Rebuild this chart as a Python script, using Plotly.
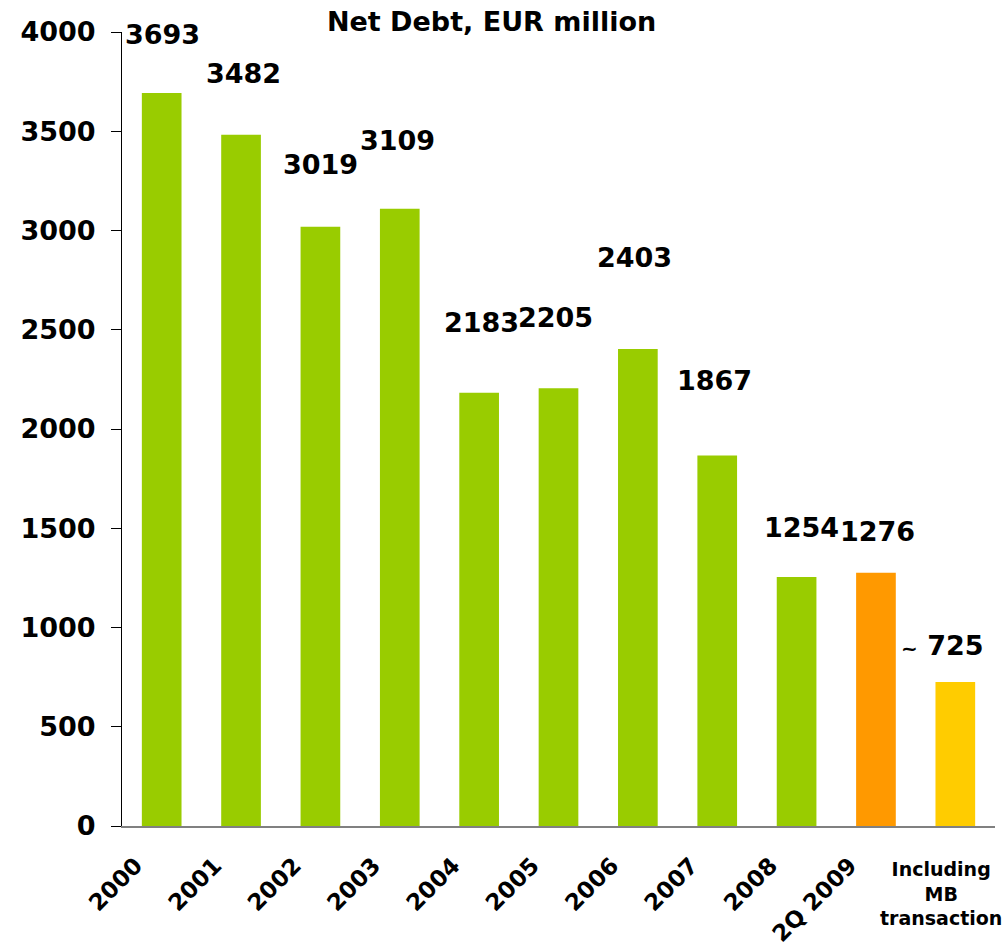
import plotly.graph_objects as go

# ---- data ----
categories = ["2000", "2001", "2002", "2003", "2004", "2005", "2006", "2007",
              "2008", "2Q 2009", "Including MB transaction"]
tick_labels = ["2000", "2001", "2002", "2003", "2004", "2005", "2006", "2007",
               "2008", "2Q 2009", ""]
net_debt = [3693, 3482, 3019, 3109, 2183, 2205, 2403, 1867, 1254, 1276, 725]
value_labels = ["3693", "3482", "3019", "3109", "2183", "2205", "2403", "1867",
                "1254", "1276", "<span style='font-size:20px'>~</span> 725"]
y_ticks = [0, 500, 1000, 1500, 2000, 2500, 3000, 3500, 4000]
title_text = "Net Debt, EUR million"
last_label = "Including<br>MB<br>transaction"

# ---- styles / positions ----
bar_colors = ["#99CC00"] * 9 + ["#FF9900", "#FFCC00"]
label_shift_y = [58, 61, 62, 68, 70, 71, 92, 75, 50, 41, 37]
label_shift_x = [1, 2, 0, -2, 2, -3, -3, -3, 5, 2, -13]
FONT = "DejaVu Sans"

idx = list(range(len(categories)))  # category positions on the category axis

fig = go.Figure()
fig.add_trace(go.Bar(
    x=categories, y=net_debt,
    marker=dict(color=bar_colors, line=dict(width=0)),
    hoverinfo="x+y",
))

for i, val, lab, dy, dx in zip(idx, net_debt, value_labels,
                               label_shift_y, label_shift_x):
    fig.add_annotation(
        x=i, y=val, xref="x", yref="y", text=lab, showarrow=False,
        xanchor="center", yanchor="middle", yshift=dy, xshift=dx,
        font=dict(family=FONT, size=27, color="black", weight="bold"),
    )

fig.add_annotation(
    x=idx[-1], y=0, xref="x", yref="y", text=last_label,
    showarrow=False, xanchor="center", yanchor="top", yshift=-30,
    xshift=-14,
    font=dict(family=FONT, size=19, color="black", weight="bold"),
)

fig.update_layout(
    width=1004, height=947,
    margin=dict(l=122, r=9, t=32, b=121, autoexpand=False),
    paper_bgcolor="white", plot_bgcolor="white",
    bargap=0.5,
    showlegend=False,
    title=dict(
        text=title_text, x=0.4233, xref="paper", xanchor="center",
        y=1 - 22 / 947, yref="container", yanchor="middle",
        font=dict(family=FONT, size=27, color="black", weight="bold"),
    ),
)

fig.update_yaxes(
    range=[0, 4000], tickvals=y_ticks, ticktext=[str(v) for v in y_ticks],
    showgrid=False, zeroline=False, automargin=False,
    showline=True, linecolor="black", linewidth=1,
    ticks="outside", ticklen=10, tickcolor="black", tickwidth=1,
    ticklabelstandoff=10,
    tickfont=dict(family=FONT, size=27, color="black", weight="bold"),
)

fig.update_xaxes(
    type="category", categoryorder="array", categoryarray=categories,
    range=[-0.5, len(categories) - 0.5], autorange=False,
    tickvals=idx, ticktext=tick_labels, tickangle=-45,
    showgrid=False, zeroline=False, automargin=False,
    showline=True, linecolor="#808080", linewidth=2,
    ticks="", ticklabelstandoff=15, ticklabelshift=-26,
    tickfont=dict(family=FONT, size=23, color="black", weight="bold"),
)

fig.write_html(
    "out.html",
    config={"displayModeBar": False},
    post_script="document.body.style.margin='0';document.body.style.overflow='hidden';",
)
